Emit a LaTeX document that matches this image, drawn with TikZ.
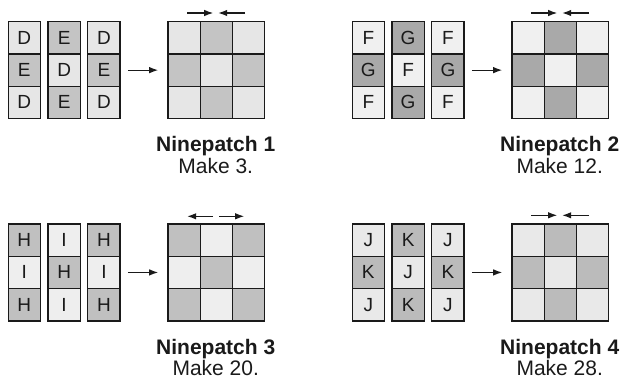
\documentclass[tikz,border=0pt]{standalone}
\usepackage{fontspec}
\setmainfont{Liberation Sans}
\usetikzlibrary{arrows.meta}
\definecolor{pOneL}{HTML}{E6E6E6}
\definecolor{pOneD}{HTML}{C4C4C4}
\definecolor{pTwoL}{HTML}{F0F0F0}
\definecolor{pTwoD}{HTML}{A9A9A9}
\definecolor{pThrL}{HTML}{EEEEEE}
\definecolor{pThrD}{HTML}{C0C0C0}
\definecolor{pFouL}{HTML}{E9E9E9}
\definecolor{pFouD}{HTML}{BBBBBB}
\definecolor{ink}{HTML}{1A1A1A}
\newcommand\ninepatch[9]{%
  \foreach \c in {1,2,3}{%
    \foreach \r in {1,2,3}{%
      \pgfmathtruncatemacro\parity{mod(\c+\r,2)}%
      \ifnum\parity=0 \def\L{#4}\def\C{#6}\else\def\L{#5}\def\C{#7}\fi
      \node[cell, fill=\C] (#3s\c\r) at ({#1+(\c-1)*39.8},{#2+(\r-1)*32.3}) {\L};
      \node[cell, fill=\C] (#3g\c\r) at ({#1+159.7+(\c-1)*32.3},{#2+(\r-1)*32.3}) {};
    }%
  }%
  \draw[conn, shorten <=7pt, shorten >=9pt] (#3s32.east) -- (#3g12.west);
  \node[titletext, anchor=base] (#3t) at ({#1+159.7+48.5},{#2+130.7}) {Ninepatch #8};
  \node[subtext, anchor=base] (#3m) at ({#1+159.7+48.5},{#2+152}) {Make #9.};
}
\newcommand\inarrows[1]{%
  \coordinate (#1a) at ([shift={(20,-8)}]#1g11.north west);
  \coordinate (#1b) at ([shift={(46,-8)}]#1g11.north west);
  \coordinate (#1c) at ([shift={(78,-8)}]#1g11.north west);
  \coordinate (#1d) at ([shift={(51,-8)}]#1g11.north west);
  \draw[conn] (#1a) -- (#1b);
  \draw[conn] (#1c) -- (#1d);
}
\newcommand\outarrows[1]{%
  \coordinate (#1a) at ([shift={(46,-7)}]#1g11.north west);
  \coordinate (#1b) at ([shift={(20,-7)}]#1g11.north west);
  \coordinate (#1c) at ([shift={(52,-7)}]#1g11.north west);
  \coordinate (#1d) at ([shift={(77,-7)}]#1g11.north west);
  \draw[conn] (#1a) -- (#1b);
  \draw[conn] (#1c) -- (#1d);
}
\begin{document}
\begin{tikzpicture}[x=1pt,y=-1pt,
  cell/.style={draw=ink, line width=1.35pt, minimum size=32.3pt, inner sep=0pt,
    anchor=north west, text=ink, font=\fontsize{19}{21}\selectfont},
  conn/.style={draw=ink, line width=1.15pt, -{Latex[length=9pt,width=6.5pt]}},
  titletext/.style={inner sep=0pt, text=ink, font=\fontsize{21}{24}\selectfont\bfseries},
  subtext/.style={inner sep=0pt, text=ink, font=\fontsize{21}{24}\selectfont}]
\useasboundingbox (0,0) rectangle (621,381);
\ninepatch{7.5}{21}{pa}{D}{E}{pOneL}{pOneD}{1}{3}
\inarrows{pa}
\ninepatch{351.5}{21}{pb}{F}{G}{pTwoL}{pTwoD}{2}{12}
\inarrows{pb}
\ninepatch{7.5}{223.3}{pc}{H}{I}{pThrD}{pThrL}{3}{20}
\outarrows{pc}
\ninepatch{351.5}{223.3}{pd}{J}{K}{pFouL}{pFouD}{4}{28}
\inarrows{pd}
\end{tikzpicture}
\end{document}
